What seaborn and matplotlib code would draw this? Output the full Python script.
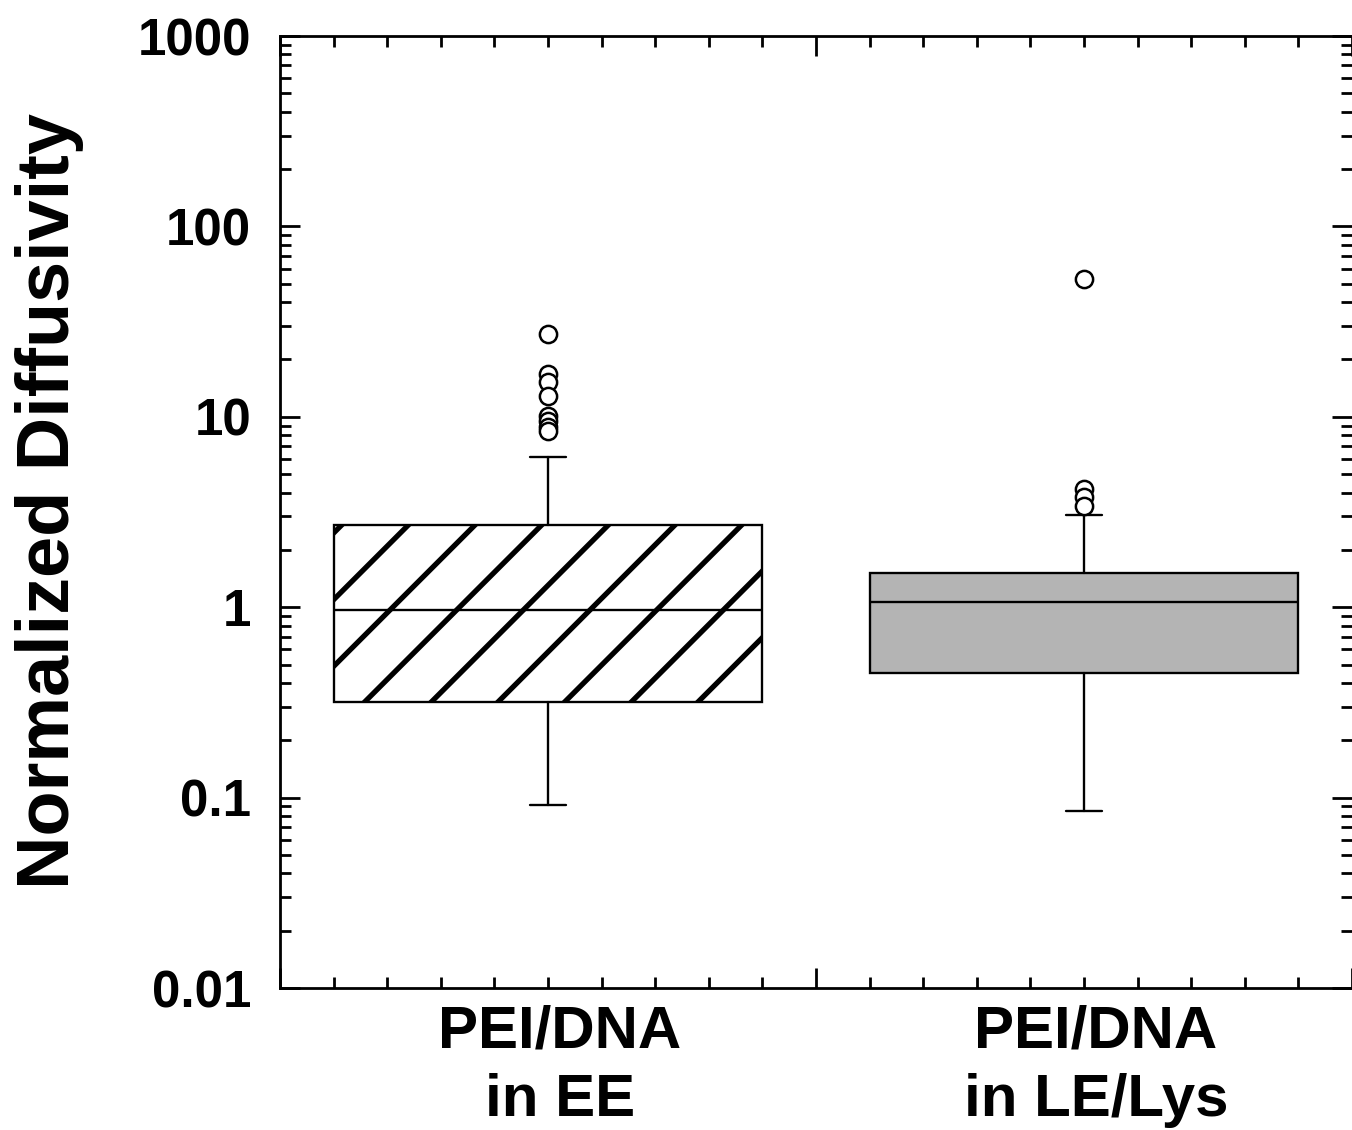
import numpy as np
import matplotlib
matplotlib.use("Agg")
import matplotlib.pyplot as plt
import matplotlib.transforms as mtransforms
import seaborn as sns
from matplotlib.ticker import FuncFormatter, LogLocator, NullFormatter

# data (box summary per group)
groups = ['PEI/DNA\nin EE', 'PEI/DNA\nin LE/Lys']
medians = [0.97, 1.06]
q1 = [0.317, 0.45]
q3 = [2.70, 1.51]
whisker_low = [0.091, 0.085]
whisker_high = [6.13, 3.04]
outliers_ee = [27.2, 16.7, 15.2, 12.8, 10.1, 9.5, 8.8, 8.4]
outliers_lel = [52.8, 4.2, 3.8, 3.4]

sns.set_style("ticks")
plt.rcParams['font.family'] = ['Liberation Sans', 'DejaVu Sans']
plt.rcParams['font.weight'] = 'bold'
plt.rcParams['text.color'] = 'black'
plt.rcParams['xtick.color'] = 'black'
plt.rcParams['ytick.color'] = 'black'
plt.rcParams['axes.labelcolor'] = 'black'
plt.rcParams['hatch.linewidth'] = 0.95
plt.rcParams['hatch.color'] = 'black'

dpi = 400
fig = plt.figure(figsize=(1352 / dpi, 1130 / dpi), dpi=dpi)
ax = fig.add_axes([280 / 1352, 142 / 1130, 1 - 280 / 1352, 952 / 1130])

positions = [0.5, 1.5]
stats = []
for i, name in enumerate(groups):
    stats.append({
        'label': name,
        'med': medians[i],
        'q1': q1[i],
        'q3': q3[i],
        'whislo': whisker_low[i],
        'whishi': whisker_high[i],
        'fliers': [outliers_ee, outliers_lel][i],
    })

lw = 0.42
bp = ax.bxp(stats, positions=positions, widths=0.8, capwidths=0.067,
            patch_artist=True, showfliers=True,
            boxprops=dict(edgecolor='black', linewidth=lw),
            medianprops=dict(color='black', linewidth=lw),
            whiskerprops=dict(color='black', linewidth=lw),
            capprops=dict(color='black', linewidth=lw),
            flierprops=dict(marker='o', markersize=3.1, markerfacecolor='white',
                            markeredgecolor='black', markeredgewidth=0.45))
bp['boxes'][0].set_facecolor('white')
bp['boxes'][0].set_hatch('//')
bp['boxes'][1].set_facecolor('#b4b4b4')

ax.set_yscale('log')
ax.set_ylim(0.01, 1000)
ax.set_xlim(0, 2)

# y ticks: decades with minor 2..9, on both sides
ax.yaxis.set_major_locator(LogLocator(base=10, numticks=10))
ax.yaxis.set_minor_locator(LogLocator(base=10, subs=np.arange(2, 10), numticks=20))
ax.yaxis.set_minor_formatter(NullFormatter())
ax.yaxis.set_major_formatter(FuncFormatter(lambda v, p: f'{v:g}'))

# x ticks: long at 0,1,2; short every 0.1, labels at box centres
ax.set_xticks([0, 1, 2])
ax.set_xticklabels(['', '', ''])
minor_pos = [round(v, 1) for v in np.arange(0.1, 2.0, 0.1) if abs(v - 1) > 1e-6]
ax.set_xticks(minor_pos, minor=True)
ax.xaxis.set_minor_formatter(FuncFormatter(
    lambda v, p: groups[positions.index(round(v, 1))] if round(v, 1) in positions else ''))

ax.tick_params(which='both', direction='in', top=True, right=True, width=0.5, color='black')
ax.tick_params(which='major', length=3.6)
ax.tick_params(which='minor', length=2.0)
ax.tick_params(axis='y', which='major', labelsize=9.2, pad=5.2)
ax.tick_params(axis='x', which='minor', labelsize=10.8, pad=3.0)
shift = mtransforms.ScaledTranslation(12 / dpi, 0, fig.dpi_scale_trans)
for lab in ax.get_xticklabels(minor=True):
    lab.set_linespacing(1.32)
    lab.set_fontweight('bold')
    lab.set_transform(lab.get_transform() + shift)
for lab in ax.get_yticklabels():
    lab.set_fontweight('bold')

for side in ['left', 'bottom', 'top']:
    ax.spines[side].set_linewidth(0.5)
    ax.spines[side].set_color('black')
ax.spines['right'].set_visible(False)

ax.set_ylabel('Normalized Diffusivity', fontsize=13.3, fontweight='bold', labelpad=9.6)
ax.yaxis.label.set_y(0.512)
ax.set_xlabel('')

fig.savefig('out.png', dpi=dpi)
